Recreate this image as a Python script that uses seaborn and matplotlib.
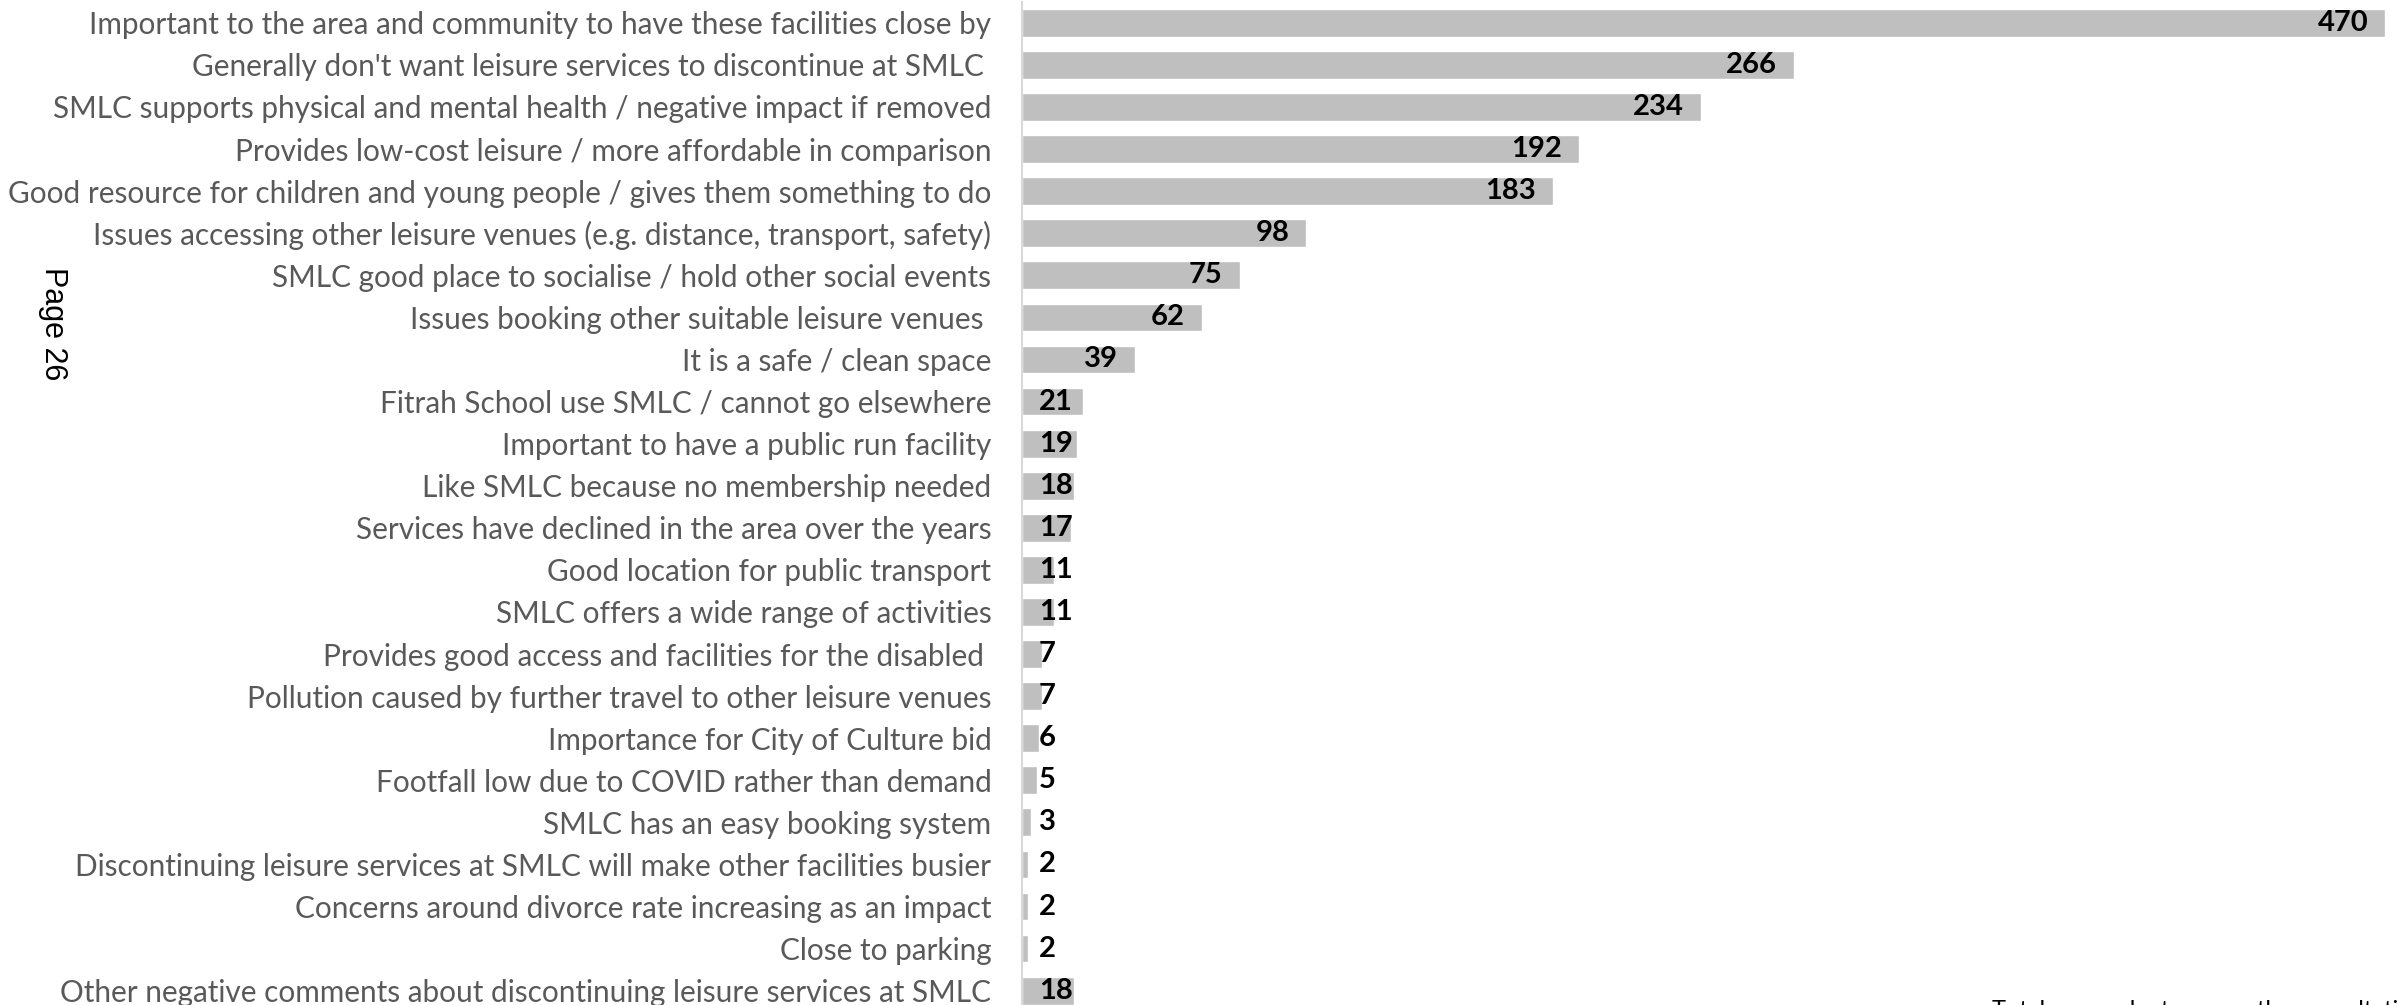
import matplotlib
matplotlib.use("Agg")
import matplotlib.pyplot as plt
import seaborn as sns
import pandas as pd

categories = [
    "Important to the area and community to have these facilities close by",
    "Generally don't want leisure services to discontinue at SMLC ",
    "SMLC supports physical and mental health / negative impact if removed",
    "Provides low-cost leisure / more affordable in comparison",
    "Good resource for children and young people / gives them something to do",
    "Issues accessing other leisure venues (e.g. distance, transport, safety)",
    "SMLC good place to socialise / hold other social events",
    "Issues booking other suitable leisure venues ",
    "It is a safe / clean space",
    "Fitrah School use SMLC / cannot go elsewhere",
    "Important to have a public run facility",
    "Like SMLC because no membership needed",
    "Services have declined in the area over the years",
    "Good location for public transport",
    "SMLC offers a wide range of activities",
    "Provides good access and facilities for the disabled ",
    "Pollution caused by further travel to other leisure venues",
    "Importance for City of Culture bid",
    "Footfall low due to COVID rather than demand",
    "SMLC has an easy booking system",
    "Discontinuing leisure services at SMLC will make other facilities busier",
    "Concerns around divorce rate increasing as an impact",
    "Close to parking",
    "Other negative comments about discontinuing leisure services at SMLC",
]
counts = [470, 266, 234, 192, 183, 98, 75, 62, 39, 21, 19, 18, 17, 11, 11,
          7, 7, 6, 5, 3, 2, 2, 2, 18]

footnote = "Total respondents across the consultation"
page_label = "Page 26"

df = pd.DataFrame({"reason": categories, "count": counts})

sns.set_theme(style="white")
plt.rcParams["font.family"] = ["Lato", "DejaVu Sans"]

W, H, DPI = 2397, 1005, 100
fig = plt.figure(figsize=(W / DPI, H / DPI), dpi=DPI)
ax_left = 1022 / W
ax_top = 1 - 1.8 / H
ax_bottom = 1 - 1011.7 / H
ax = fig.add_axes([ax_left, ax_bottom, 1 - ax_left, ax_top - ax_bottom])

sns.barplot(data=df, x="count", y="reason", orient="h", color="#bfbfbf",
            saturation=1, width=0.66, ax=ax)

ax.set_xlim(0, 474)
ax.set_ylim(len(categories) - 0.5, -0.5)
ax.set_xlabel("")
ax.set_ylabel("")
ax.set_xticks([])
ax.tick_params(axis="y", length=0, pad=22, labelsize=21.4, labelcolor="#595959")
for s in ["top", "right", "bottom"]:
    ax.spines[s].set_visible(False)
ax.spines["left"].set_color("#d9d9d9")
ax.spines["left"].set_linewidth(1.5)

# value labels: inside the bar end, pushed off the axis when the bar is too short
labels = []
for i, v in enumerate(counts):
    t = ax.annotate(str(v), xy=(v, i), xytext=(-17, 0), textcoords="offset pixels",
                    ha="right", va="center", fontsize=21, fontweight="bold",
                    color="black")
    labels.append(t)

fig.canvas.draw()
renderer = fig.canvas.get_renderer()
axis_px = ax.transData.transform((0, 0))[0]
for i, (t, v) in enumerate(zip(labels, counts)):
    bb = t.get_window_extent(renderer)
    if bb.x0 < axis_px + 17:
        t.xy = (0, i)
        t.set_position((17, 0))
        t.set_ha("left")

fig.text(53 / W, 1 - 324 / H, page_label, rotation=-90, ha="center", va="center",
         fontsize=22, color="black", family=["Liberation Sans", "DejaVu Sans"])

fig.text(1992 / W, 1 - 1000 / H, footnote, ha="left", va="top",
         fontsize=17, color="black")

fig.savefig("out.png", dpi=DPI)
